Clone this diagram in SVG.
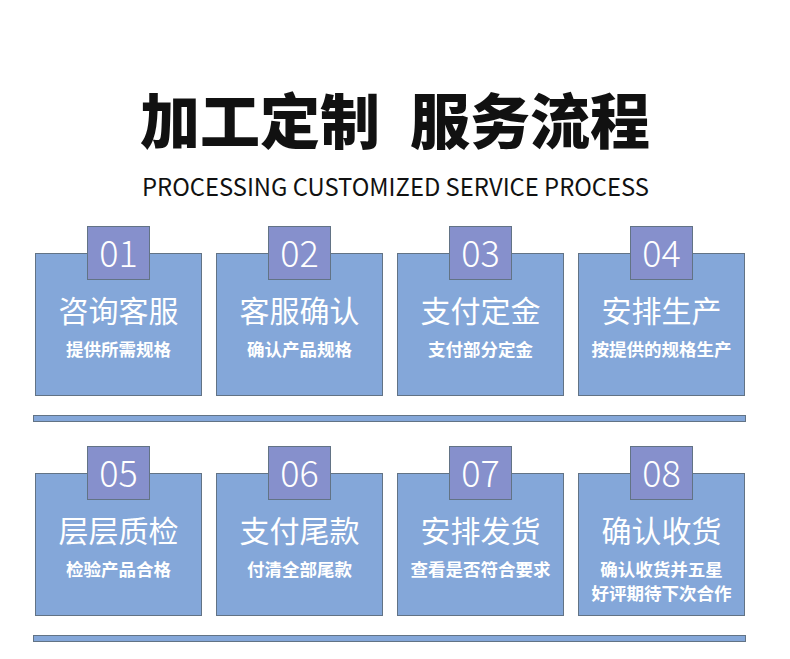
<svg xmlns="http://www.w3.org/2000/svg" width="790" height="659" viewBox="0 0 790 659">
<style>
.box{fill:#84a7d9;stroke:#627385;stroke-width:1}
.tab{fill:#8690cc;stroke:#627385;stroke-width:1}
.bar{fill:#84a7d9;stroke:#627385;stroke-width:1}
.num{font-family:"Noto Sans CJK SC","Open Sans",sans-serif;font-weight:300;font-size:36px;fill:#ffffff;text-anchor:middle}
.ttl{font-family:"Noto Sans CJK SC",sans-serif;font-size:30px;fill:#ffffff;text-anchor:middle}
.sub{font-family:"Noto Sans CJK SC",sans-serif;font-weight:bold;font-size:17.5px;fill:#ffffff;text-anchor:middle}
.h1{font-family:"Noto Sans CJK SC",sans-serif;font-weight:900;font-size:60px;fill:#111111;text-anchor:middle}
.h2{font-family:"Noto Sans CJK SC","Noto Sans",sans-serif;font-size:24px;fill:#111111;text-anchor:middle}
</style>
<rect width="790" height="659" fill="#ffffff"/>
<g id="title">
<text class="h1" x="260" y="144">加工定制</text>
<text class="h1" x="530" y="144">服务流程</text>
<text class="h2" x="395.5" y="196" textLength="507" lengthAdjust="spacingAndGlyphs">PROCESSING CUSTOMIZED SERVICE PROCESS</text>
</g>
<g id="connectors">
<rect class="bar" x="33.5" y="415.5" width="712" height="6"/>
<rect class="bar" x="33.5" y="635.5" width="712" height="6"/>
</g>
<g id="step01">
<rect class="box" x="35.5" y="253.5" width="166" height="142"/>
<rect class="tab" x="87.5" y="226.5" width="62" height="53"/>
<text class="num" x="118.5" y="267">01</text>
<text class="ttl" x="118.5" y="322">咨询客服</text>
<text class="sub" x="118.5" y="356">提供所需规格</text>
</g>
<g id="step02">
<rect class="box" x="216.5" y="253.5" width="166" height="142"/>
<rect class="tab" x="268.5" y="226.5" width="62" height="53"/>
<text class="num" x="299.5" y="267">02</text>
<text class="ttl" x="299.5" y="322">客服确认</text>
<text class="sub" x="299.5" y="356">确认产品规格</text>
</g>
<g id="step03">
<rect class="box" x="397.5" y="253.5" width="166" height="142"/>
<rect class="tab" x="449.5" y="226.5" width="62" height="53"/>
<text class="num" x="480.5" y="267">03</text>
<text class="ttl" x="480.5" y="322">支付定金</text>
<text class="sub" x="480.5" y="356">支付部分定金</text>
</g>
<g id="step04">
<rect class="box" x="578.5" y="253.5" width="166" height="142"/>
<rect class="tab" x="630.5" y="226.5" width="62" height="53"/>
<text class="num" x="661.5" y="267">04</text>
<text class="ttl" x="661.5" y="322">安排生产</text>
<text class="sub" x="661.5" y="356">按提供的规格生产</text>
</g>
<g id="step05">
<rect class="box" x="35.5" y="473.5" width="166" height="142"/>
<rect class="tab" x="87.5" y="446.5" width="62" height="53"/>
<text class="num" x="118.5" y="487">05</text>
<text class="ttl" x="118.5" y="542">层层质检</text>
<text class="sub" x="118.5" y="576">检验产品合格</text>
</g>
<g id="step06">
<rect class="box" x="216.5" y="473.5" width="166" height="142"/>
<rect class="tab" x="268.5" y="446.5" width="62" height="53"/>
<text class="num" x="299.5" y="487">06</text>
<text class="ttl" x="299.5" y="542">支付尾款</text>
<text class="sub" x="299.5" y="576">付清全部尾款</text>
</g>
<g id="step07">
<rect class="box" x="397.5" y="473.5" width="166" height="142"/>
<rect class="tab" x="449.5" y="446.5" width="62" height="53"/>
<text class="num" x="480.5" y="487">07</text>
<text class="ttl" x="480.5" y="542">安排发货</text>
<text class="sub" x="480.5" y="576">查看是否符合要求</text>
</g>
<g id="step08">
<rect class="box" x="578.5" y="473.5" width="166" height="142"/>
<rect class="tab" x="630.5" y="446.5" width="62" height="53"/>
<text class="num" x="661.5" y="487">08</text>
<text class="ttl" x="661.5" y="542">确认收货</text>
<text class="sub" x="661.5" y="576">确认收货并五星</text>
<text class="sub" x="661.5" y="600">好评期待下次合作</text>
</g>
</svg>
